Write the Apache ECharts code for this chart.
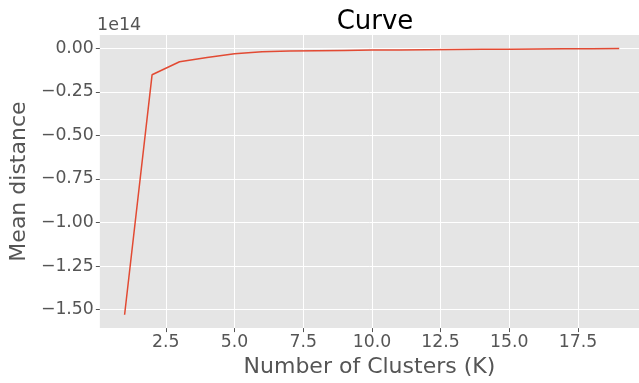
<!DOCTYPE html>
<html>
<head>
<meta charset="utf-8">
<script src="https://cdn.jsdelivr.net/npm/echarts@6/dist/echarts.min.js"></script>
<style>
html,body{margin:0;padding:0;background:#fff;}
#c{width:639px;height:383px;}
</style>
</head>
<body>
<div id="c"></div>
<script>
// Data (mean distance values in units of 1e14)
const clusters = [1,2,3,4,5,6,7,8,9,10,11,12,13,14,15,16,17,18,19];
const meanDistance = [-1.53,-0.152,-0.077,-0.053,-0.031,-0.019,-0.016,-0.014,-0.012,-0.010,-0.009,-0.008,-0.007,-0.006,-0.005,-0.004,-0.003,-0.002,-0.0015];
const xTicks = [2.5,5.0,7.5,10.0,12.5,15.0,17.5];
const yTicks = [-1.5,-1.25,-1.0,-0.75,-0.5,-0.25,0];
const offsetText = '1e14';

const font = 'DejaVu Sans';
const fmtY = v => (v < 0 ? '\u2212' : '') + Math.abs(v).toFixed(2);
const fmtX = v => Math.abs(v).toFixed(1);

const chart = echarts.init(document.getElementById('c'), null, {renderer:'canvas'});
chart.setOption({
  animation:false,
  backgroundColor:'#fff',
  title:{text:'Curve', left:370, top:4, textAlign:'center',
    textStyle:{fontFamily:font, fontSize:26, fontWeight:'normal', color:'#000'}},
  graphic:[{type:'text', left:97, top:16,
    style:{text:offsetText, fontFamily:font, fontSize:17.5, fill:'#555555'}}],
  grid:{left:96.4, right:0, top:35, bottom:47, show:true, backgroundColor:'#E5E5E5', borderWidth:0},
  xAxis:{type:'value', min:0.1, max:19.72, position:'bottom',
    name:'Number of Clusters (K)', nameLocation:'middle', nameGap:24,
    nameTextStyle:{fontFamily:font, fontSize:22, color:'#555555'},
    axisLine:{show:false, onZero:false},
    axisTick:{show:true, customValues:xTicks, length:4, inside:false, lineStyle:{color:'#555555', width:1}},
    axisLabel:{customValues:xTicks, formatter:fmtX, fontFamily:font, fontSize:17.3, color:'#555555', margin:6},
    splitLine:{show:true, lineStyle:{color:'#ffffff', width:1}}},
  yAxis:{type:'value', min:-1.6065, max:0.0765,
    name:'Mean distance', nameLocation:'middle', nameGap:64, nameRotate:90,
    nameTextStyle:{fontFamily:font, fontSize:22, color:'#555555'},
    axisLine:{show:false, onZero:false},
    axisTick:{show:true, customValues:yTicks, length:4, lineStyle:{color:'#555555', width:1}},
    axisLabel:{customValues:yTicks, formatter:fmtY, fontFamily:font, fontSize:17.3, color:'#555555', margin:6},
    splitLine:{show:true, lineStyle:{color:'#ffffff', width:1}}},
  series:[{type:'line', data:clusters.map((k,i)=>[k, meanDistance[i]]),
    showSymbol:false, symbol:'none', lineStyle:{color:'#E24A33', width:1.5}}]
});
</script>
</body>
</html>
